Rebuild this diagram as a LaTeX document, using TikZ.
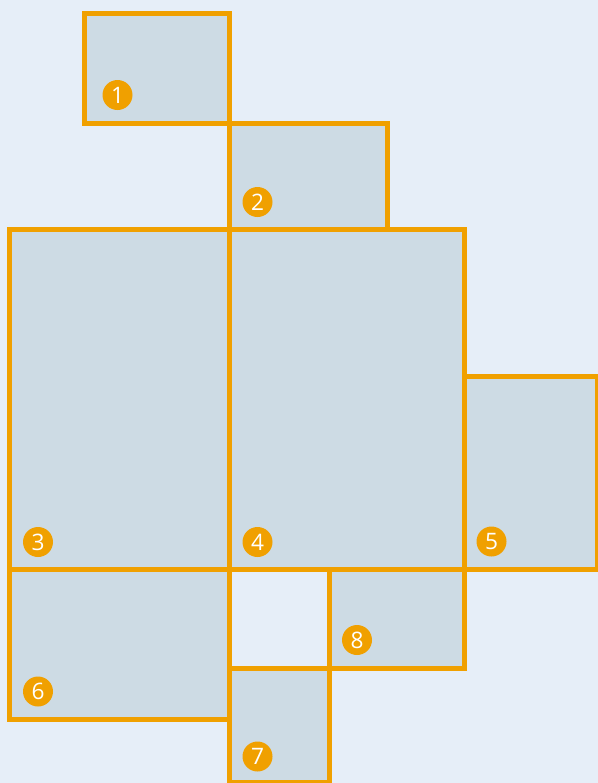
\documentclass[tikz,border=0pt]{standalone}
\usepackage{fontspec}
\setmainfont{Open Sans}
\definecolor{bgblue}{HTML}{E6EEF8}
\definecolor{roomfill}{HTML}{CDDBE4}
\definecolor{wallorange}{HTML}{F0A000}
\def\roomlist{84.5/13.5/229.5/123.5, 229.5/123.5/387.5/229.5, 9.5/229.5/229.5/569.5, 229.5/229.5/464.5/569.5, 464.5/376.5/597.5/569.5, 9.5/569.5/229.5/719.5, 229.5/668.5/329.5/782.5, 329.5/569.5/464.5/668.5}

\begin{document}
\begin{tikzpicture}[x=0.75pt,y=-0.75pt,
  room/.style={draw=wallorange,line width=3.75pt},
  tag/.style={circle,fill=wallorange,text=white,minimum size=22.5pt,inner sep=0pt,font=\fontsize{17}{17}\selectfont}]
\useasboundingbox (0,0) rectangle (598,783);
\fill[bgblue] (0,0) rectangle (598,783);
\clip (0,0) rectangle (598,783);
% rooms: fill first, then walls
\foreach \xa/\ya/\xb/\yb in \roomlist{\fill[roomfill] (\xa,\ya) rectangle (\xb,\yb);}
\foreach \xa/\ya/\xb/\yb in \roomlist{\draw[room] (\xa,\ya) rectangle (\xb,\yb);}
% numbered tags
\foreach \n/\x/\y in {1/117.5/95,2/257.5/202,3/38/542,4/257.5/542,5/491.5/541.5,6/38/691.5,7/257.5/756.5,8/357/640}{\node[tag] (t\n) at (\x,\y) {\n};}
\end{tikzpicture}
\end{document}
